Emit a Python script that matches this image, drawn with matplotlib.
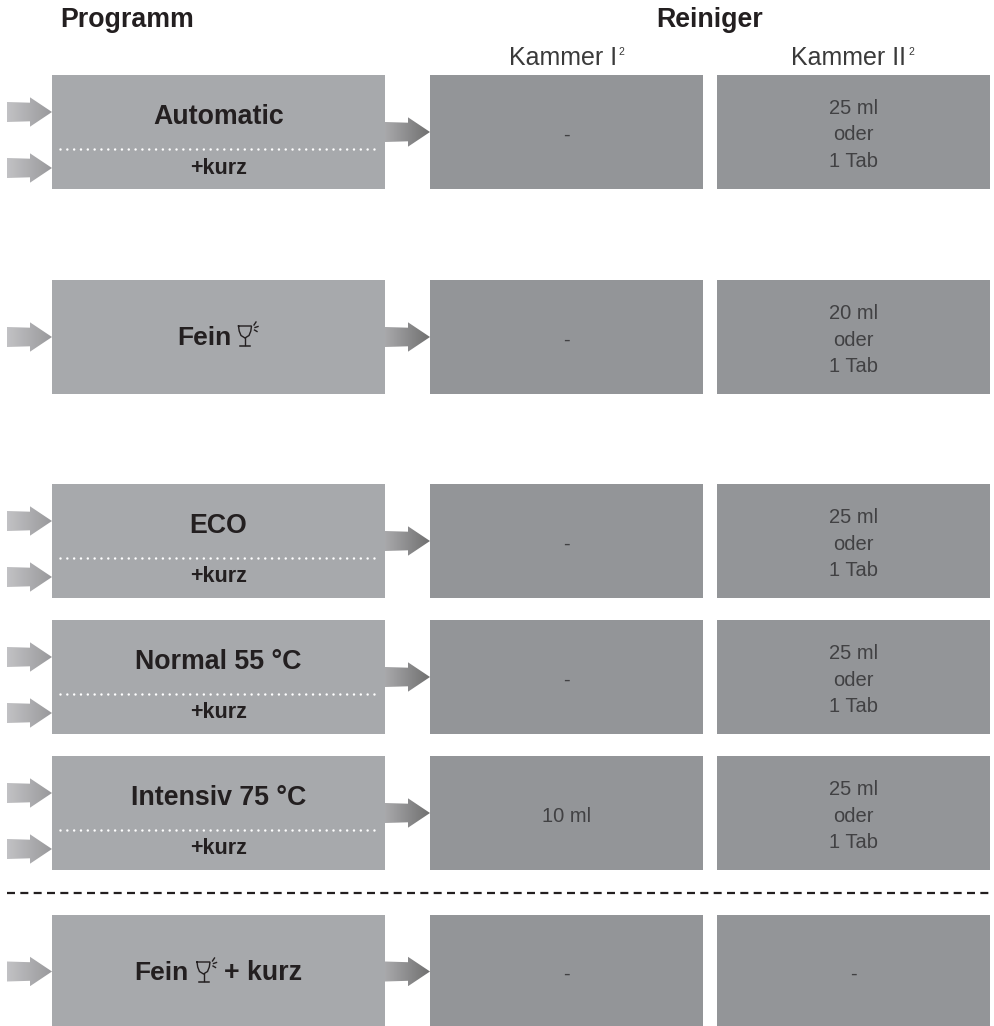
import numpy as np
import matplotlib
matplotlib.use("Agg")
import matplotlib.pyplot as plt
from matplotlib.patches import Rectangle, Polygon

plt.rcParams['font.family'] = ['Liberation Sans', 'DejaVu Sans']

# datos
programs = ["Automatic", "Fein", "ECO", "Normal 55 °C", "Intensiv 75 °C", "Fein"]
has_kurz = [True, False, True, True, True, False]
chamber_1 = ["-", "-", "-", "-", "10 ml", "-"]
chamber_2 = ["25 ml\noder\n1 Tab", "20 ml\noder\n1 Tab", "25 ml\noder\n1 Tab",
             "25 ml\noder\n1 Tab", "25 ml\noder\n1 Tab", "-"]

# layout en pixeles
W, H = 994, 1026
row_top = [75, 280, 484, 620, 756, 915]
row_bot = [189, 394, 598, 734, 870, 1028]

fig = plt.figure(figsize=(W / 100, H / 100), dpi=100)
ax = fig.add_axes([0, 0, 1, 1])
ax.set_xlim(0, W)
ax.set_ylim(H, 0)
ax.axis('off')

grad = np.linspace(0, 1, 64)


def arrow(x0, x1, y, c0, c1):
    # flecha con degradado
    hw, hh, sh = 22, 14.7, 10
    pts = [(x0, y - sh), (x1 - hw, y - sh + 0.7), (x1 - hw, y - hh), (x1, y),
           (x1 - hw, y + hh), (x1 - hw, y + sh - 0.7), (x0, y + sh)]
    poly = Polygon(pts, closed=True, fc='none', ec='none')
    ax.add_patch(poly)
    cols = np.array([c0 + (c1 - c0) * t for t in grad]).reshape(1, -1, 3)
    im = ax.imshow(cols, extent=(x0, x1, y + hh, y - hh), aspect='auto', zorder=2)
    im.set_clip_path(poly)
    ax.set_xlim(0, W)
    ax.set_ylim(H, 0)


def glass(x, y):
    # copa: x,y es la esquina sup. izq.
    c = '#231f20'
    ax.plot([x + 0.5, x + 1.2, x + 3, x + 7, x + 11, x + 12.8, x + 13.5, x + 0.5],
            [y, y + 5, y + 9.5, y + 12, y + 9.5, y + 5, y, y],
            color=c, lw=1.0, solid_joinstyle='miter', zorder=3)
    ax.plot([x + 7, x + 7], [y + 12, y + 19], color=c, lw=1.0, zorder=3)
    ax.plot([x + 2, x + 12], [y + 19.5, y + 19.5], color=c, lw=1.1, zorder=3)
    ax.plot([x + 16, x + 18], [y - 1, y - 4], color=c, lw=1.0, zorder=3)
    ax.plot([x + 17, x + 20], [y + 1.5, y + 0.5], color=c, lw=1.0, zorder=3)
    ax.plot([x + 16.5, x + 19], [y + 4, y + 5.5], color=c, lw=1.0, zorder=3)


dark = '#231f20'
ax.text(127, 20, "Programm", fontsize=19.3, fontweight='bold', color=dark, ha='center', va='center')
ax.text(710, 20, "Reiniger", fontsize=19.3, fontweight='bold', color=dark, ha='center', va='center')
ax.text(509, 58, "Kammer I", fontsize=18, color='#3a3a3a', ha='left', va='center')
ax.text(618.5, 52, "2", fontsize=7.5, color='#3a3a3a', ha='left', va='center')
ax.text(791, 58, "Kammer II", fontsize=18, color='#3a3a3a', ha='left', va='center')
ax.text(908, 52, "2", fontsize=7.5, color='#3a3a3a', ha='left', va='center')

c_in0 = np.array([0.76, 0.76, 0.77])
c_in1 = np.array([0.60, 0.60, 0.61])
c_out0 = np.array([0.66, 0.66, 0.67])
c_out1 = np.array([0.44, 0.44, 0.44])

for i, name in enumerate(programs):
    top, bot = row_top[i], row_bot[i]
    mid = (top + bot) / 2
    ax.add_patch(Rectangle((52, top), 333, bot - top, fc='#a7a9ac', ec='none'))
    ax.add_patch(Rectangle((430, top), 273, bot - top, fc='#939598', ec='none'))
    ax.add_patch(Rectangle((717, top), 273, bot - top, fc='#939598', ec='none'))

    if has_kurz[i]:
        ax.plot([60, 380], [top + 74, top + 74], color='white', lw=1.8,
                linestyle=(0, (0.01, 2.72)), dash_capstyle='round', zorder=3)
        ax.text(218.5, top + 93, "+kurz", fontsize=15.5, fontweight='bold', color=dark, ha='center', va='center')
        ax.text(218.5, top + 42, name, fontsize=19.3, fontweight='bold', color=dark, ha='center', va='center')
        arrow(7, 52, top + 37, c_in0, c_in1)
        arrow(7, 52, top + 93, c_in0, c_in1)
    elif i == 1:
        ax.text(177.5, mid + 1, name, fontsize=19, fontweight='bold', color=dark, ha='left', va='center')
        glass(238, mid - 11)
        arrow(7, 52, mid, c_in0, c_in1)
    else:
        ax.text(134.5, mid + 1, name, fontsize=19, fontweight='bold', color=dark, ha='left', va='center')
        glass(196.5, mid - 9.5)
        ax.text(224, mid + 1, "+ kurz", fontsize=19.3, fontweight='bold', color=dark, ha='left', va='center')
        arrow(7, 52, mid, c_in0, c_in1)

    arrow(385, 430, mid, c_out0, c_out1)
    ax.text(566.5, mid + 3, chamber_1[i], fontsize=14.5, color='#414143', ha='center', va='center')
    ax.text(853.5, mid + 3, chamber_2[i], fontsize=14.5, color='#414143', ha='center', va='center', linespacing=1.5)

ax.plot([7, 990], [893.3, 893.3], color='#231f20', lw=1.6, linestyle=(0, (3.6, 2.4)))

fig.savefig("out.png", dpi=100)
